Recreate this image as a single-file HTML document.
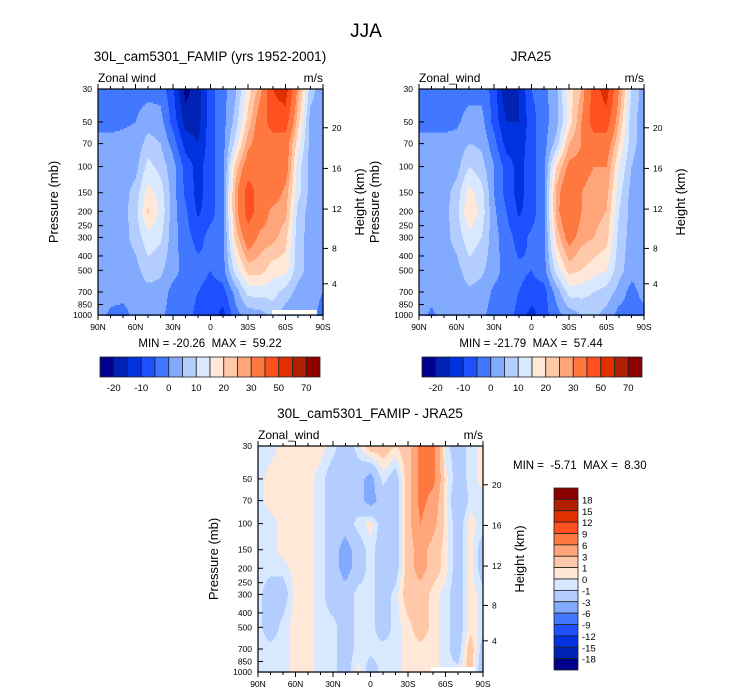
<!DOCTYPE html>
<html><head><meta charset="utf-8">
<style>
html,body{margin:0;padding:0;background:#fff;}
svg{display:block;font-family:"Liberation Sans",Arial,sans-serif;}
.pre{white-space:pre;}
</style></head>
<body>
<svg id="fig" width="733" height="696" viewBox="0 0 733 696" xmlns="http://www.w3.org/2000/svg">
<text x="366" y="37" font-size="19" text-anchor="middle">JJA</text>
</svg>
<script>
// ---- data ----
const lats = [90,80,70,60,50,40,30,20,10,0,-10,-20,-30,-40,-50,-60,-70,-80,-90];
const levs = [30,50,70,100,150,200,300,500,700,1000];
const pTicks = [30,50,70,100,150,200,250,300,400,500,700,850,1000];
const hTicks = [4,8,12,16,20];
const latTicks = [90,60,30,0,-30,-60,-90];
const latTickLabels = ["90N","60N","30N","0","30S","60S","90S"];
const windLevels = [-20,-15,-10,-5,0,5,10,15,20,25,30,40,50,60,70];
const windLabels = ["-20","-10","0","10","20","30","50","70"];
const diffLevels = [-18,-15,-12,-9,-6,-3,-1,0,1,3,6,9,12,15,18];
const diffLabels = ["-18","-15","-12","-9","-6","-3","-1","0","1","3","6","9","12","15","18"];
const colors = ["#00008c","#0022b4","#0032e0","#1e50ff","#4178ff","#82aaff","#b4cdff","#d7e8ff","#ffe8d8","#ffc8a8","#ffa57a","#ff7840","#ff5020","#e03000","#b02000","#8c0000"];

const modelU = [
[-2,-2,-2,-2,-2,-2,-9,-22,-17,-7,-2,4,17,28,50,55,28,7,2],
[-2,-2,-1,0,3,2,-7,-17,-17,-7,-2,7,22,35,45,45,22,3,2],
[2,2,2,2,7,5,-2,-12,-15,-7,-2,12,28,35,35,35,17,3,2],
[2,2,2,3,12,8,2,-7,-12,-7,-2,22,35,35,35,35,12,3,2],
[2,2,3,7,17,13,2,-6,-12,-7,-2,27,45,35,35,28,12,3,2],
[2,2,3,8,21,14,2,-4,-11,-7,-2,27,45,35,28,27,8,3,2],
[2,2,3,7,13,11,2,-3,-7,-3,-2,22,35,28,27,22,7,3,2],
[2,2,2,3,8,6,2,-2,-3,-5,-2,12,22,22,17,17,7,3,2],
[2,2,2,2,3,3,-2,-2,-5,-7,-7,2,12,12,12,8,3,2,0],
[2,-1,-2,2,2,1,-2,-2,-7,-7,-12,-2,2,3,7,2,2,2,-2]];
const obsU = [
[-2,-2,-2,-2,-2,-2,-7,-20,-15,-5,-2,4,17,25,45,55,30,10,2],
[-2,-2,-2,-1,2,2,-7,-15,-15,-7,-2,3,17,30,45,45,25,7,2],
[2,2,2,2,5,4,-3,-12,-13,-7,-2,7,25,30,35,35,20,7,2],
[2,2,2,3,10,7,0,-7,-12,-7,-2,20,32,32,30,30,15,5,2],
[2,2,3,7,17,12,0,-7,-12,-7,-2,27,38,30,28,27,12,3,2],
[2,2,3,8,20,13,1,-5,-11,-7,-2,27,40,30,27,25,10,3,2],
[2,2,3,7,13,10,2,-3,-7,-4,-2,22,33,27,25,22,8,3,2],
[2,2,2,3,8,6,2,-2,-4,-5,-2,12,22,20,17,15,7,2,2],
[2,2,2,2,4,3,-1,-2,-5,-7,-7,2,12,12,10,8,3,-2,2],
[2,-1,2,2,2,1,-2,-2,-7,-12,-7,-2,2,5,6,3,-2,-2,-2]];
const diffU = [
[-0.5,-0.5,0.5,0.5,0.5,0.5,-0.5,-2,-0.5,2,2,1,2,7,7,-0.5,-2,-0.5,0.5],
[-0.5,0.5,0.5,0.5,0.5,-0.5,-2,-2,-2,-4,-0.5,-2,2,7,7,0.5,-2,-0.5,0.5],
[-0.5,0.5,0.5,0.5,0.5,-0.5,-2,-2,-2,-4,-2,-2,2,7,5,0.5,-3,-0.5,-0.5],
[-0.5,-0.5,0.5,0.5,0.5,-0.5,-2,-2,-0.5,0.5,-2,-2,2,6,4,0.5,-2,0.5,-0.5],
[-0.5,-0.5,0.5,0.5,0.5,-0.5,-2,-4,-2,-0.5,-2,-2,2,4,2,0.5,-2,0.5,-2],
[-0.5,-0.5,-0.5,0.5,0.5,-0.5,-2,-4,-2,-0.5,-2,-2,2,4,2,0.5,-2,0.5,-2],
[-0.5,-2,-2,0.5,0.5,-0.5,-2,-2,-0.5,-0.5,-2,-0.5,2,2,0.5,-0.5,-2,0.5,-0.5],
[-0.5,-2,-0.5,0.5,0.5,-0.5,-0.5,-2,-0.5,-0.5,-2,-0.5,0.5,2,0.5,-0.5,-2,0.5,-0.5],
[-0.5,-0.5,-0.5,0.5,0.5,-0.5,-0.5,-2,-0.5,-0.5,-0.5,-0.5,0.5,0.5,0.5,-0.5,-2,2,-2],
[-0.5,-0.5,-0.5,0.5,0.5,-0.5,-0.5,-2,0.5,-2,-0.5,-0.5,0.5,0.5,0.5,-0.5,-0.5,2,-3]];

// ---- helpers ----
const NS="http://www.w3.org/2000/svg";
const svg=document.getElementById('fig');
function mk(tag,attrs,parent){const e=document.createElementNS(NS,tag);for(const k in attrs)e.setAttribute(k,attrs[k]);(parent||svg).appendChild(e);return e;}
function stdP(hkm){const h=hkm*1000;if(h<=11000)return 1013.25*Math.pow(1-2.25577e-5*h,5.25588);return 226.32*Math.exp(-(h-11000)/6341.6);}
function classOf(v,lv){let i=0;while(i<lv.length&&v>=lv[i])i++;return i;}
const logLevs=levs.map(Math.log10);
function sample(grid,lat,lp){
  let fx=(90-lat)/10; let ix=Math.min(Math.floor(fx),lats.length-2); let tx=fx-ix;
  let iy=0; while(iy<levs.length-2&&lp>logLevs[iy+1])iy++;
  let ty=(lp-logLevs[iy])/(logLevs[iy+1]-logLevs[iy]); ty=Math.max(0,Math.min(1,ty));
  const a=grid[iy][ix],b=grid[iy][ix+1],c=grid[iy+1][ix],d=grid[iy+1][ix+1];
  return (a*(1-tx)+b*tx)*(1-ty)+(c*(1-tx)+d*tx)*ty;
}

function panel(P){
  const g=mk('g',{});
  
  
  const L=P.x0,R=P.x1,T=P.y0,B=P.y1,W=R-L,H=B-T;
  const lt=Math.log10(30),lb=Math.log10(1000);
  const xS=lat=>L+(90-lat)/180*W;
  const yS=p=>T+(Math.log10(p)-lt)/(lb-lt)*H;
  const fg=mk('g',{},g);
  
  
  const step=1.5;
  for(let y=T;y<B;y+=step){
    const lp=lt+((y+step/2)-T)/H*(lb-lt);
    let runStart=L,runC=null;
    for(let x=L;x<=R;x+=1){
      let c=null;
      if(x<R){const lat=90-((x+0.5)-L)/W*180;c=classOf(sample(P.data,lat,lp),P.levels);}
      if(c!==runC){
        if(runC!==null){const r=mk('rect',{x:runStart,y:y,width:x-runStart+0.6,height:step+0.6,fill:colors[runC]},fg);
          
          }
        runStart=x;runC=c;
      }
    }
  }
  if(P.missing){const m=mk('rect',{x:P.missing[0],y:P.missing[1],width:P.missing[2],height:P.missing[3],fill:'#fff'},g);
    
    }
  const fr=mk('rect',{x:L,y:T,width:W,height:H,fill:'none',stroke:'#000','stroke-width':1.2},g);
  
  
  for(let lat=90;lat>=-90;lat-=10){
    const x=xS(lat),major=lat%30===0,len=major?5:3;
    mk('line',{x1:x,y1:B,x2:x,y2:B+len,stroke:'#000','stroke-width':1},g);
    mk('line',{x1:x,y1:T,x2:x,y2:T-len,stroke:'#000','stroke-width':1},g);
  }
  latTicks.forEach((lat,i)=>{
    const t=mk('text',{x:xS(lat),y:B+15,'font-size':8.5,'text-anchor':'middle'},g);
    t.textContent=latTickLabels[i];
    
    
  });
  pTicks.forEach(p=>{
    const y=yS(p);
    mk('line',{x1:L,y1:y,x2:L+5,y2:y,stroke:'#000','stroke-width':1},g);
    const t=mk('text',{x:L-6,y:y+3,'font-size':8.5,'text-anchor':'end'},g);
    t.textContent=p;
    
    
  });
  hTicks.forEach(h=>{
    const y=yS(stdP(h));
    mk('line',{x1:R,y1:y,x2:R+5,y2:y,stroke:'#000','stroke-width':1},g);
    const t=mk('text',{x:R+9,y:y+3,'font-size':8.5},g);
    t.textContent=h;
    
    
  });
  const yt=mk('text',{x:0,y:0,'font-size':13,'text-anchor':'middle',transform:`translate(${L-40},${(T+B)/2}) rotate(-90)`},g);
  yt.textContent='Pressure (mb)';
  
  
  const yr=mk('text',{x:0,y:0,'font-size':13,'text-anchor':'middle',transform:`translate(${R+41},${(T+B)/2}) rotate(-90)`},g);
  yr.textContent='Height (km)';
  
  
  const tt=mk('text',{x:P.titleX,y:T-28,'font-size':13.5,'text-anchor':'middle'},g);
  tt.textContent=P.title;
  
  
  const zl=mk('text',{x:L,y:T-7,'font-size':12},g);
  zl.textContent=P.left;
  
  
  const ul=mk('text',{x:R,y:T-7,'font-size':12,'text-anchor':'end'},g);
  ul.textContent='m/s';
  
  
  const mm=mk('text',{x:P.mmX,y:P.mmY,'font-size':11.5,'text-anchor':P.mmAnchor,'class':'pre'},g);
  mm.textContent=P.minmax;
  
  
}

function hbar(x0,x1,y0,y1,name){
  const g=mk('g',{});
  
  
  const w=(x1-x0)/colors.length;
  colors.forEach((c,i)=>{
    const r=mk('rect',{x:x0+i*w,y:y0,width:w,height:y1-y0,fill:c,stroke:'#222','stroke-width':0.8},g);
    
    
  });
  windLabels.forEach((lab,i)=>{
    const t=mk('text',{x:x0+(1+2*i)*w,y:y1+14,'font-size':9.5,'text-anchor':'middle'},g);
    t.textContent=lab;
    
    
  });
}
function vbar(x0,x1,y0,y1){
  const g=mk('g',{});
  
  
  const h=(y1-y0)/colors.length;
  colors.slice().reverse().forEach((c,i)=>{
    const r=mk('rect',{x:x0,y:y0+i*h,width:x1-x0,height:h,fill:c,stroke:'#222','stroke-width':0.8},g);
    
    
  });
  diffLabels.slice().reverse().forEach((lab,i)=>{
    const t=mk('text',{x:x1+4,y:y0+(i+1)*h+4,'font-size':9.5},g);
    t.textContent=lab;
    
    
  });
}

panel({name:'model-panel',x0:98,x1:323,y0:89,y1:315,data:modelU,levels:windLevels,title:'30L_cam5301_FAMIP (yrs 1952-2001)',titleX:210,left:'Zonal wind',minmax:'MIN = -20.26  MAX =  59.22',mmX:210,mmY:347,mmAnchor:'middle',missing:[272,310,45,5]});
panel({name:'obs-panel',x0:419,x1:644,y0:89,y1:315,data:obsU,levels:windLevels,title:'JRA25',titleX:531,left:'Zonal_wind',minmax:'MIN = -21.79  MAX =  57.44',mmX:531,mmY:347,mmAnchor:'middle'});
panel({name:'diff-panel',x0:258,x1:483,y0:446,y1:672,data:diffU,levels:diffLevels,title:'30L_cam5301_FAMIP - JRA25',titleX:370,left:'Zonal_wind',minmax:'MIN =  -5.71  MAX =  8.30',mmX:513,mmY:469,mmAnchor:'start',missing:[431,667,44,5]});
hbar(100,320,357,377,'model-colorbar');
hbar(422,642,357,377,'obs-colorbar');
vbar(554,578,488,670);
</script>
</body></html>
